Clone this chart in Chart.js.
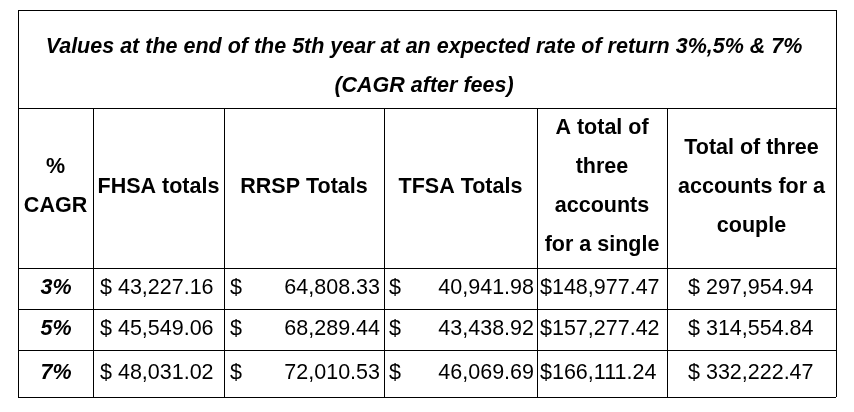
<!DOCTYPE html>
<html>
  <head>
    <title>Account values table</title>
    <script src="https://cdn.jsdelivr.net/npm/chart.js@4/dist/chart.umd.min.js"></script>
    <style>body{margin:0;background:#fff}</style>
  </head>
  <body>
    <div style="width:854px;height:412px"><canvas id="myChart"></canvas></div>
    <script>
      // table content
      var titleLines = ["Values at the end of the 5th year at an expected rate of return 3%,5% & 7%", "(CAGR after fees)"];
      var headers = [["%", "CAGR"], ["FHSA totals"], ["RRSP Totals"], ["TFSA Totals"],
        ["A total of", "three", "accounts", "for a single"], ["Total of three", "accounts for a", "couple"]];
      var rates = ["3%", "5%", "7%"];
      var fhsa = ["43,227.16", "45,549.06", "48,031.02"];
      var rrsp = ["64,808.33", "68,289.44", "72,010.53"];
      var tfsa = ["40,941.98", "43,438.92", "46,069.69"];
      var single = ["$148,977.47", "$157,277.42", "$166,111.24"];
      var couple = ["$ 297,954.94", "$ 314,554.84", "$ 332,222.47"];

      // grid lines in scale units
      var colEdges = [18, 93, 224, 384, 537, 667, 836];
      var rowEdges = [10, 108, 268, 309, 350, 397];

      var tablePlugin = {
        id: "table",
        afterDraw: function (chart) {
          var c = chart.ctx, xs = chart.scales.x, ys = chart.scales.y;
          var X = function (v) { return xs.getPixelForValue(v); };
          var Y = function (v) { return ys.getPixelForValue(v); };
          c.save();
          c.strokeStyle = "#000";
          c.lineWidth = 1;
          rowEdges.forEach(function (r) {
            c.beginPath(); c.moveTo(X(colEdges[0]), Y(r) + 0.5); c.lineTo(X(colEdges[6]), Y(r) + 0.5); c.stroke();
          });
          colEdges.forEach(function (e, i) {
            var top = (i === 0 || i === 6) ? rowEdges[0] : rowEdges[1];
            c.beginPath(); c.moveTo(X(e) + 0.5, Y(top)); c.lineTo(X(e) + 0.5, Y(rowEdges[5])); c.stroke();
          });
          c.fillStyle = "#000";
          c.textBaseline = "middle";
          var font = "'Liberation Sans', Arial, sans-serif";
          var size = "21.5px ";
          // title
          c.font = "italic bold " + size + font;
          c.textAlign = "center";
          c.fillText(titleLines[0], X(424), Y(47));
          c.fillText(titleLines[1], X(424), Y(86));
          // headers
          c.font = "bold " + size + font;
          headers.forEach(function (lines, i) {
            var cx = (colEdges[i] + colEdges[i + 1]) / 2;
            var mid = (rowEdges[1] + rowEdges[2]) / 2 - 1;
            lines.forEach(function (t, k) {
              c.fillText(t, X(cx), Y(mid + (k - (lines.length - 1) / 2) * 39));
            });
          });
          // data rows
          rates.forEach(function (rate, r) {
            var cy = (rowEdges[r + 2] + rowEdges[r + 3]) / 2;
            c.font = "italic bold " + size + font;
            c.textAlign = "center";
            c.fillText(rate, X(56), Y(cy));
            c.font = size + font;
            c.textAlign = "left";
            c.fillText("$ " + fhsa[r], X(100), Y(cy));
            c.fillText("$", X(230), Y(cy));
            c.fillText("$", X(389), Y(cy));
            c.fillText(single[r], X(540), Y(cy));
            c.fillText(couple[r], X(688), Y(cy));
            c.textAlign = "right";
            c.fillText(rrsp[r], X(380), Y(cy));
            c.fillText(tfsa[r], X(534), Y(cy));
          });
          c.restore();
        }
      };

      new Chart(document.getElementById("myChart"), {
        type: "scatter",
        data: { datasets: [{ data: [] }] },
        options: {
          responsive: true,
          maintainAspectRatio: false,
          animation: false,
          layout: { padding: 0 },
          plugins: { legend: { display: false }, tooltip: { enabled: false } },
          scales: {
            x: { type: "linear", min: 0, max: 854, display: false },
            y: { type: "linear", min: 0, max: 412, reverse: true, display: false }
          }
        },
        plugins: [tablePlugin]
      });
    </script>
  </body>
</html>
